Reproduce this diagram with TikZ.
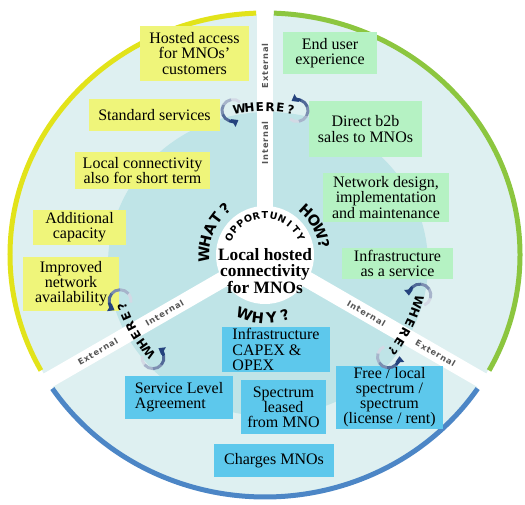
\documentclass[tikz,border=0pt]{standalone}
\usepackage{fontspec}
\setmainfont{Liberation Serif}
\newfontfamily\capsfont{DejaVu Sans}
\newfontfamily\spokefont[LetterSpace=10]{DejaVu Sans}
\usetikzlibrary{calc,arrows.meta}

\definecolor{ringyellow}{HTML}{E2E31A}
\definecolor{ringgreen}{HTML}{8CC63F}
\definecolor{ringblue}{HTML}{4C86C6}
\definecolor{diskouter}{HTML}{DEF0F1}
\definecolor{diskinner}{HTML}{BFE4E7}
\definecolor{boxyellow}{HTML}{EFF57A}
\definecolor{boxgreen}{HTML}{B5F2C3}
\definecolor{boxblue}{HTML}{5DC8EC}
\definecolor{navy}{HTML}{24427D}
\definecolor{spokegray}{HTML}{555555}

% letters set one by one round the centre C
\newcommand\bendword[7]{% name, style, radius, first angle, step, turn, letters
  \foreach \ch [count=\i] in {#7} {
    \pgfmathsetmacro\ang{#4+(\i-1)*(#5)}
    \node[#2, rotate=\ang#6] (#1-\i) at ($(C)+(\ang:#3)$) {\ch};
  }}

% one turning arrow, fading from its tail to its head
\newcommand\turnarrow[1]{% start angle
  \foreach \k/\tint in {0/20,1/40,2/60,3/80}
    \draw[turnline, navy!\tint!white] (#1+\k*50:11) arc[start angle=#1+\k*50, delta angle=51, radius=11];
  \draw[turnline, navy, -{Triangle[length=4.5pt, width=6.5pt]}] (#1+200:11) arc[start angle=#1+200, delta angle=50, radius=11];}

% WHERE? with its two turning arrows
\newcommand\whereturn[3]{% name, centre angle, radius
  \pgfmathsetmacro\wfirst{#2+10}
  \bendword{#1}{wherefont}{#3}{\wfirst}{-4}{-90}{W,H,E,R,E,?}
  \begin{scope}[shift={($(C)+(#2+12.5:#3)$)}, rotate=#2-90]
    \turnarrow{50}
  \end{scope}
  \begin{scope}[shift={($(C)+(#2-12.5:#3)$)}, rotate=#2-90]
    \turnarrow{230}
  \end{scope}}

\begin{document}
\begin{tikzpicture}[x=0.75pt, y=0.75pt,
    ring/.style={line width=3.75pt},
    spoke/.style={white, line width=12pt},
    boxsize/.style 2 args={minimum width=#1*0.75pt, minimum height=#2*0.75pt},
    box/.style={inner sep=0pt, align=center, font=\fontsize{12}{11.3}\selectfont},
    ybox/.style={box, fill=boxyellow},
    gbox/.style={box, fill=boxgreen},
    bbox/.style={box, fill=boxblue},
    side/.style={inner sep=0pt, text=spokegray, font=\spokefont\bfseries\fontsize{6.2}{6}\selectfont},
    wherefont/.style={inner sep=0pt, font=\capsfont\bfseries\fontsize{9}{9}\selectfont},
    askfont/.style={inner sep=0pt, font=\capsfont\bfseries\fontsize{11}{11}\selectfont},
    hubfont/.style={inner sep=0pt, font=\capsfont\bfseries\fontsize{7.2}{7}\selectfont},
    turnline/.style={line width=2.2pt}]
    \useasboundingbox (0,0) rectangle (525,504);
    \coordinate (C) at (265,249);

    % Disc
    \fill[diskouter] (C) ellipse [x radius=254, y radius=241];
    \fill[diskinner] (268,240) ellipse [x radius=160, y radius=152];

    % Outer ring
    \draw[ring, ringyellow] ($(C)+(92:255 and 242)$) arc[start angle=92, end angle=208.5, x radius=255, y radius=242];
    \draw[ring, ringgreen] ($(C)+(88:255 and 242)$) arc[start angle=88, end angle=-28.5, x radius=255, y radius=242];
    \draw[ring, ringblue] ($(C)+(213.5:255 and 242)$) arc[start angle=213.5, end angle=326.5, x radius=255, y radius=242];

    % Spokes
    \coordinate (topend) at ($(C)+(90:262)$);
    \coordinate (leftend) at ($(C)+(210:270)$);
    \coordinate (rightend) at ($(C)+(330:270)$);
    \draw[spoke] (C) -- (topend);
    \draw[spoke] (C) -- (leftend);
    \draw[spoke] (C) -- (rightend);

    % Hub
    \node[circle, fill=white, minimum size=73.5pt, inner sep=0pt] (hub) at (C) {};
    \node[inner sep=0pt, align=center, font=\fontsize{13}{12.4}\selectfont\bfseries] (topic) at (265,233) {Local hosted\\connectivity\\for MNOs};

    % Internal / External
    \node[side, rotate=90] (topin) at ($(C)+(90:112)$) {Internal};
    \node[side, rotate=90] (topex) at ($(C)+(90:189)$) {External};
    \node[side, rotate=30] (leftin) at ($(C)+(210:116)$) {Internal};
    \node[side, rotate=30] (leftex) at ($(C)+(210:193)$) {External};
    \node[side, rotate=-30] (rightin) at ($(C)+(330:117)$) {Internal};
    \node[side, rotate=-30] (rightex) at ($(C)+(330:197)$) {External};

    % What
    \node[ybox, boxsize={109}{55}] (hosted) at (194.5,450.5) {Hosted access\\for MNOs'\\customers};
    \node[ybox, boxsize={131}{32}] (standard) at (154.5,389) {Standard services};
    \node[ybox, boxsize={135}{37}] (shortterm) at (142.5,333.5) {Local connectivity\\also for short term};
    \node[ybox, boxsize={93}{35}] (capacity) at (79.5,276.5) {Additional\\capacity};
    \node[ybox, boxsize={96}{54}] (improved) at (71,220) {Improved\\network\\availability};

    % How
    \node[gbox, boxsize={94}{42}] (enduser) at (330,451) {End user\\experience};
    \node[gbox, boxsize={113}{56}] (direct) at (365.5,375) {Direct b2b\\sales to MNOs};
    \node[gbox, boxsize={126}{49}] (design) at (386,306.5) {Network design,\\implementation\\and maintenance};
    \node[gbox, boxsize={111}{31}] (iaas) at (397.5,240.5) {Infrastructure\\as a service};

    % Why
    \node[bbox, boxsize={108}{45}, align=left] (capex) at (276,154.5) {Infrastructure\\CAPEX \&\\OPEX};
    \node[bbox, boxsize={108}{43}, align=left] (sla) at (179,106.5) {Service Level\\Agreement};
    \node[bbox, boxsize={85}{54}] (leased) at (283.5,97) {Spectrum\\leased\\from MNO};
    \node[bbox, boxsize={107}{63}] (free) at (389.5,106.5) {Free / local\\spectrum /\\spectrum\\(license / rent)};
    \node[bbox, boxsize={120}{33}] (charges) at (274,43.5) {Charges MNOs};

    % Questions round the hub
    \bendword{opp}{hubfont}{40}{153}{-12.6}{-90}{O,P,P,O,R,T,U,N,I,T,Y}
    \bendword{what}{askfont}{61}{179}{-12}{-90}{W,H,A,T,?}
    \bendword{how}{askfont}{60}{47}{-12}{-90}{H,O,W,?}
    \bendword{why}{askfont}{63}{251}{12.5}{+90}{W,H,Y,?}

    % Where
    \whereturn{wtop}{90}{148}
    \whereturn{wleft}{210}{152}
    \whereturn{wright}{333}{160}
\end{tikzpicture}
\end{document}
